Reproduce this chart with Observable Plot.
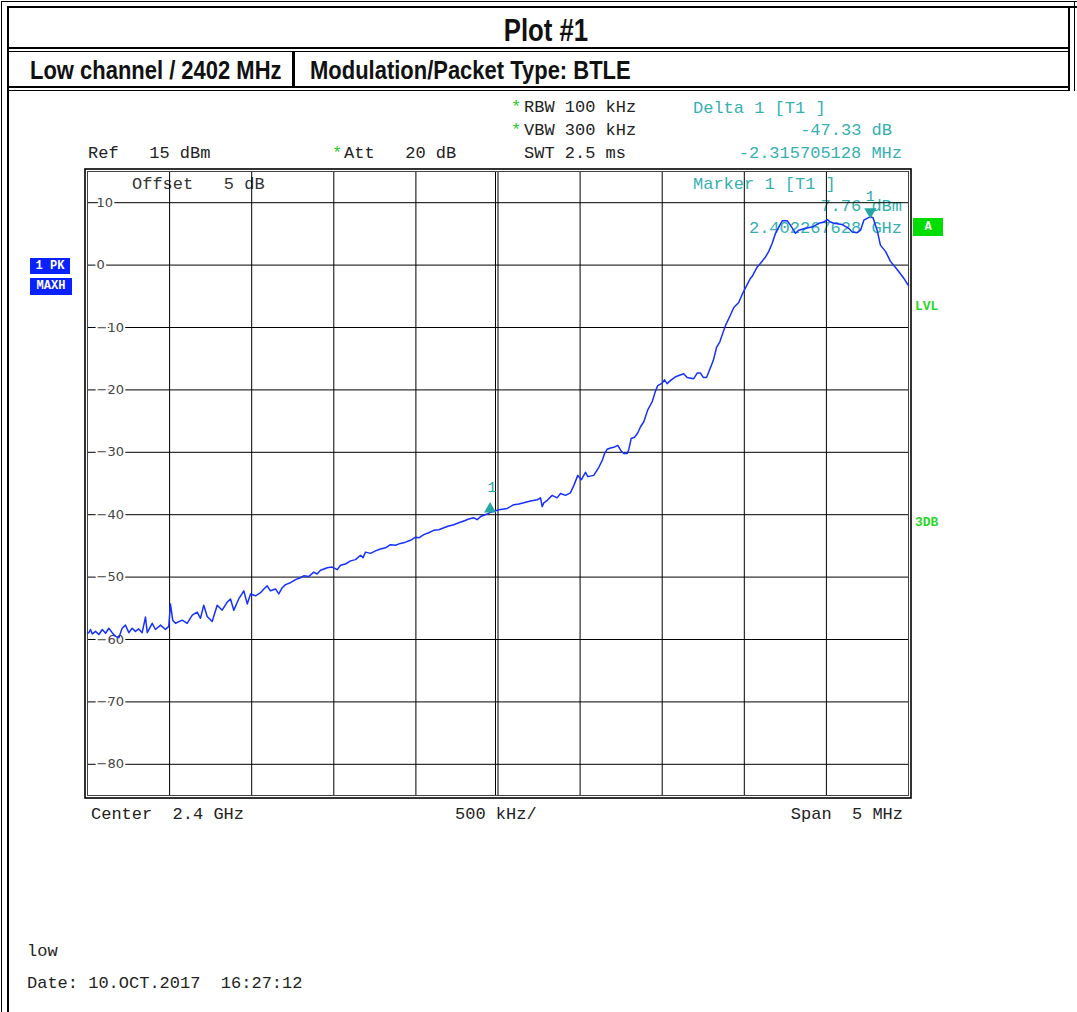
<!DOCTYPE html>
<html><head><meta charset="utf-8">
<script src="https://cdn.jsdelivr.net/npm/d3@7"></script>
<script src="https://cdn.jsdelivr.net/npm/@observablehq/plot@0.6"></script>
<style>
html,body{margin:0;padding:0;background:#fff;}
#page{position:relative;width:1077px;height:1012px;overflow:hidden;background:#fff;}
.abs{position:absolute;white-space:pre;}
.mono{font-family:"Liberation Mono","DejaVu Sans Mono",monospace;font-size:17px;line-height:17px;color:#222;}
.teal{color:#35b0b0;}
.star{color:#22cc22;}
.hdr{font-family:"Liberation Sans Narrow","Liberation Sans",Arial,sans-serif;font-weight:bold;color:#111;}
.box{position:absolute;box-sizing:border-box;}
.tag{position:absolute;font-family:"Liberation Mono","DejaVu Sans Mono",monospace;font-weight:bold;font-size:12px;color:#fff;text-align:center;line-height:17px;}
.grn{position:absolute;font-family:"Liberation Mono","DejaVu Sans Mono",monospace;font-weight:bold;font-size:13px;color:#2ad62a;line-height:13px;}
</style></head>
<body><div id="page"></div>
<script>
// ---- data ----
const freqMHz = [
2397.500,2397.508,2397.518,2397.529,2397.549,2397.569,2397.590,2397.610,2397.630,2397.650,
2397.671,2397.691,2397.711,2397.731,2397.752,2397.772,2397.792,2397.812,2397.833,2397.853,
2397.864,2397.894,2397.914,2397.945,2397.975,2397.995,2398.005,2398.019,2398.036,2398.077,
2398.107,2398.138,2398.168,2398.188,2398.208,2398.229,2398.259,2398.290,2398.320,2398.351,
2398.371,2398.391,2398.421,2398.452,2398.473,2398.493,2398.523,2398.554,2398.574,2398.594,
2398.614,2398.645,2398.665,2398.686,2398.706,2398.736,2398.767,2398.797,2398.817,
2398.848,2398.878,2398.898,2398.919,2398.940,2398.960,2398.990,2399.021,2399.041,2399.071,
2399.102,2399.132,2399.163,2399.178,2399.193,2399.224,2399.254,2399.284,2399.315,2399.345,
2399.375,2399.406,2399.437,2399.467,2399.498,2399.518,2399.548,2399.578,2399.609,2399.640,
2399.670,2399.700,2399.731,2399.761,2399.792,2399.822,2399.853,2399.873,2399.894,2399.914,
2399.935,2399.954,2399.980,2400.005,
2400.056,2400.096,2400.127,2400.157,2400.198,2400.239,2400.259,2400.269,2400.279,2400.300,
2400.330,2400.360,2400.381,2400.411,2400.441,2400.462,2400.486,2400.507,2400.533,2400.547,
2400.583,2400.614,2400.635,
2400.649,2400.665,2400.685,2400.705,2400.730,2400.750,2400.766,2400.787,2400.797,2400.811,
2400.831,2400.851,2400.868,2400.888,2400.912,2400.939,2400.959,2400.973,2401.000,2401.014,
2401.030,2401.055,2401.081,2401.131,2401.152,2401.192,2401.213,2401.233,2401.250,2401.270,
2401.284,2401.311,2401.331,2401.351,
2401.385,2401.412,2401.436,2401.466,2401.487,2401.518,2401.538,2401.548,2401.579,2401.599,
2401.629,2401.649,2401.670,2401.690,2401.710,2401.731,2401.761,2401.781,2401.812,2401.832,
2401.873,2401.913,2401.954,2401.984,2402.005,2402.025,2402.045,2402.096,2402.136,2402.157,
2402.187,2402.208,2402.228,2402.248,2402.268,2402.284,2402.309,2402.329,2402.360,2402.390,
2402.431,2402.471,2402.500
];
const levelDbm = [
-59.0,-58.9,-58.4,-59.1,-58.7,-59.2,-58.4,-59.0,-58.2,-58.9,
-59.5,-59.7,-58.2,-57.7,-58.9,-58.2,-58.7,-58.3,-58.9,-56.4,
-58.9,-57.4,-58.4,-57.7,-58.4,-57.9,-54.3,-56.9,-57.4,-56.9,
-57.4,-56.1,-55.6,-56.6,-54.5,-56.3,-57.1,-54.5,-55.3,-54.0,
-53.5,-55.3,-53.5,-52.2,-54.3,-52.7,-53.0,-52.5,-51.9,-51.4,
-52.2,-51.9,-52.7,-51.7,-51.2,-50.9,-50.4,-50.1,-49.8,
-49.9,-49.2,-49.5,-48.9,-48.7,-48.5,-48.4,-48.8,-48.1,-47.9,
-47.4,-47.2,-46.5,-46.9,-46.0,-46.2,-45.8,-45.5,-45.3,-44.8,
-44.9,-44.6,-44.4,-44.1,-43.6,-43.7,-43.2,-42.9,-42.5,-42.4,
-42.1,-41.8,-41.6,-41.3,-41.0,-40.7,-40.5,-40.8,-40.3,-40.1,
-39.9,-39.6,-39.4,-39.2,
-39.0,-38.4,-38.3,-38.1,-37.8,-37.6,-37.3,-38.7,-38.1,-37.7,
-36.9,-37.3,-36.6,-36.9,-36.5,-35.3,-33.7,-34.4,-33.2,-33.9,
-33.7,-32.4,-31.3,
-30.2,-29.5,-29.3,-29.2,-28.9,-29.8,-30.2,-30.2,-29.5,-27.8,
-27.6,-26.9,-25.9,-25.1,-23.2,-21.9,-20.2,-19.3,-18.9,-18.4,
-19.0,-18.4,-17.9,-17.4,-18.0,-18.2,-17.3,-17.3,-18.0,-18.0,
-17.1,-15.3,-13.2,-12.3,
-9.7,-8.2,-6.8,-6.0,-4.7,-3.1,-2.1,-1.8,-0.3,0.3,
1.3,2.2,3.5,5.1,6.1,7.1,7.1,6.4,5.1,5.6,
5.9,6.1,6.7,6.9,7.3,6.9,6.7,6.5,5.9,5.3,
5.2,5.6,7.2,7.5,7.76,7.6,5.6,3.2,2.2,0.6,
-0.7,-2.1,-3.3
];
const xGrid = [2397.5,2398,2398.5,2399,2399.5,2400,2400.5,2401,2401.5,2402,2402.5];
const yTicks = [10,0,-10,-20,-30,-40,-50,-60,-70,-80];
const marker1 = {freq: 2402.267628, level: 7.76};
const delta1 = {offsetMHz: -2.315705128, offsetDb: -47.33};

// ---- page chrome ----
const page = document.getElementById("page");
function box(style){const d=document.createElement("div");d.className="box";Object.assign(d.style,style);page.appendChild(d);return d;}
function put(txt,x,yc,cls,right,extra){const d=document.createElement("div");d.className="abs "+cls;d.textContent=txt;
  if(right){d.style.right=(1077-x)+"px";}else{d.style.left=x+"px";}
  d.style.top=(yc-8.5)+"px";if(extra)Object.assign(d.style,extra);page.appendChild(d);return d;}

box({left:"1px",top:"1px",width:"1200px",height:"1200px",borderLeft:"1px solid #000",borderTop:"1px solid #000"});
box({left:"7px",top:"6px",width:"1200px",height:"1200px",borderLeft:"2px solid #000",borderTop:"2px solid #000"});
box({left:"1074px",top:"1px",width:"1px",height:"90px",background:"#000"});
box({left:"1068px",top:"6px",width:"2px",height:"84px",background:"#000"});
box({left:"7px",top:"47px",width:"1063px",height:"2px",background:"#000"});
box({left:"7px",top:"51px",width:"1063px",height:"1px",background:"#000"});
box({left:"7px",top:"86px",width:"1063px",height:"2px",background:"#000"});
box({left:"7px",top:"90px",width:"1063px",height:"1px",background:"#000"});
box({left:"292px",top:"51px",width:"3px",height:"36px",background:"#000"});

function hdr(txt,x,top,size,sx,center){const d=document.createElement("div");d.className="abs hdr";d.textContent=txt;
  Object.assign(d.style,{top:top+"px",fontSize:size+"px",lineHeight:(size+4)+"px",transform:"scaleX("+sx+")"});
  if(center){Object.assign(d.style,{left:"0px",width:(2*x)+"px",textAlign:"center",transformOrigin:x+"px 50%"});}
  else{Object.assign(d.style,{left:x+"px",transformOrigin:"0 50%"});}
  page.appendChild(d);}
hdr("Plot #1",546,13,31,0.83,true);
hdr("Low channel / 2402 MHz",30,55,26,0.845,false);
hdr("Modulation/Packet Type: BTLE",310,55,26,0.845,false);

// analyzer annotations
put("*",511,107,"mono star");put("RBW 100 kHz",524,107,"mono");
put("*",511,130,"mono star");put("VBW 300 kHz",524,130,"mono");
put("Ref   15 dBm",88,153,"mono");
put("*",332,153,"mono star");put("Att   20 dB",344,153,"mono");
put("SWT 2.5 ms",524,153,"mono");
put("Delta 1 [T1 ]",693,108,"mono teal");
put(delta1.offsetDb.toFixed(2)+" dB",892,130,"mono teal",true);
put(delta1.offsetMHz.toFixed(9)+" MHz",902,153,"mono teal",true);
put("Offset   5 dB",132,184,"mono",false,{color:"#333"});
put("Marker 1 [T1 ]",693,184,"mono teal");
put(marker1.level.toFixed(2)+" dBm",902,206,"mono teal",true);
put((marker1.freq/1000).toFixed(9)+" GHz",902,228,"mono teal",true);
put("Center  2.4 GHz",91,814,"mono");
put("500 kHz/",455,814,"mono");
put("Span  5 MHz",903,814,"mono",true);
put("low",27,951,"mono");
put("Date: 10.OCT.2017  16:27:12",27,983,"mono");

function tag(txt,x,y,w,h,bg){const d=document.createElement("div");d.className="tag";d.textContent=txt;
  Object.assign(d.style,{left:x+"px",top:y+"px",width:w+"px",height:h+"px",lineHeight:h+"px",background:bg});page.appendChild(d);}
tag("1 PK",30,258,40,16,"#0a22ff");
tag("MAXH",30,278,42,17,"#0a22ff");
tag("A",913,218,30,18,"#00dd00");
const g1=document.createElement("div");g1.className="grn";g1.textContent="LVL";Object.assign(g1.style,{left:"915px",top:"300px"});page.appendChild(g1);
const g2=document.createElement("div");g2.className="grn";g2.textContent="3DB";Object.assign(g2.style,{left:"915px",top:"516px"});page.appendChild(g2);

// ---- chart ----
const trace = freqMHz.map((f,i)=>({f, l: levelDbm[i]}));
const teal = "#25a5a5";
const deltaPt = {f: marker1.freq + delta1.offsetMHz, l: marker1.level + delta1.offsetDb};
const fmt = d => d < 0 ? "\u2212" + (-d) : String(d);

const chart = Plot.plot({
  width: 1077, height: 922,
  marginLeft: 87, marginRight: 169, marginTop: 81, marginBottom: 217,
  x: {domain: [2397.5, 2402.5], axis: null},
  y: {domain: [-85, 15], axis: null},
  style: {background: "transparent", overflow: "visible"},
  marks: [
    Plot.gridX(xGrid, {stroke: "#000", strokeOpacity: 1, strokeWidth: 1}),
    Plot.gridX([2400], {stroke: "#000", strokeOpacity: 1, strokeWidth: 1, dx: -2.5}),
    Plot.gridY(yTicks, {stroke: "#000", strokeOpacity: 1, strokeWidth: 1}),
    Plot.frame({stroke: "#444", strokeWidth: 1}),
    Plot.frame({stroke: "#000", strokeWidth: 1.6, inset: -2.5}),
    Plot.text(yTicks, {x: () => 2397.5, y: d => d, text: fmt, textAnchor: "start", dx: 9,
      fill: "#444", stroke: "white", strokeWidth: 4, fontSize: 13, fontFamily: "DejaVu Sans"}),
    Plot.line(trace, {x: "f", y: "l", stroke: "#1530ff", strokeWidth: 1.5, curve: "linear"}),
    Plot.dot([marker1], {x: "freq", y: "level", symbol: "triangle", r: 4.5, fill: teal, rotate: 180, dy: -5}),
    Plot.text([marker1], {x: "freq", y: "level", text: () => "1", dy: -20, fill: teal, fontSize: 15, fontFamily: "Liberation Mono"}),
    Plot.dot([deltaPt], {x: "f", y: "l", symbol: "triangle", r: 4.5, fill: teal, dy: -3}),
    Plot.text([deltaPt], {x: "f", y: "l", text: () => "1", dy: -25, dx: 2, fill: teal, fontSize: 15, fontFamily: "Liberation Mono"})
  ]
});
chart.style.position = "absolute";
chart.style.left = "0px";
chart.style.top = "90px";
page.appendChild(chart);
</script>
</body></html>
